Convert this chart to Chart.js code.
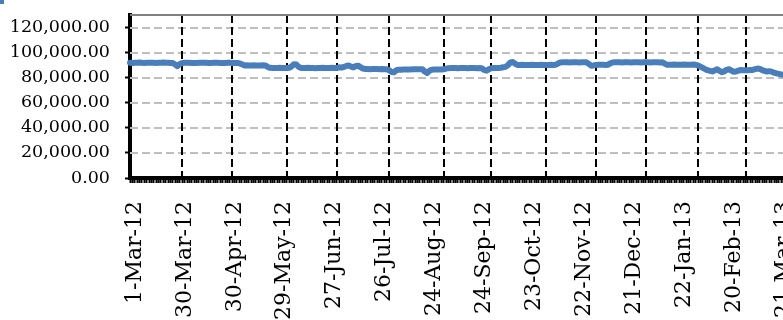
<!DOCTYPE html>
<html><head><meta charset="utf-8">
<script src="https://cdn.jsdelivr.net/npm/chart.js@4/dist/chart.umd.min.js"></script>
<style>
html,body{margin:0;padding:0;background:#fff;overflow:hidden;width:783px;height:320px;}
#wrap{position:absolute;left:0;top:0;width:805px;height:320px;}
#legendMark{position:absolute;left:0;top:0;width:4px;height:4px;background:#4a7ebb;}
</style></head><body>
<div id="wrap"><canvas id="c" width="805" height="320"></canvas></div>
<div id="legendMark"></div>
<script>
// ---- data ----
const startDate = '2012-03-01';                 // first trading day
const holidays = ['2012-11-12', '2013-01-01'];  // weekdays without trading
const labelEvery = 21;                          // one date label every 21 trading days
const yTicks = [0, 20000, 40000, 60000, 80000, 100000, 120000];
const values = [
  92000,91800,91900,92000,92100, 91900,91800,91900,92000,92000, 91900,91800,91900,92000,92100, 92000,91900,91800,91700,
  90500,89200,91000,
  91800,91900,92000,91900,91800, 91700,91800,91900,92000,92000, 91900,91800,91800,91900,92000, 91900,91800,91700,91800,91900, 91900,91800,91700,91800,91600,
  90800,
  89800,89900,89700,89800,89900, 89800,89700,89800,89900,89800,
  88500,
  87900,87800,87700,87800,87900, 87800,87700,87800,87900,
  89000,90800,90500,88500,
  87800,87700,87800,87900,87800, 87700,87600,87700,87800,87900, 87800,87700,87800,87900,87800,
  87800,88300,88000,88600,89400,89700,88800,88200,89300,89600,88400,87300,
  87000,86900,86800,86900,87000, 86900,86800,86900,86800,86700,
  86000,84600,84300,85800,
  86400,86400,86500,86500,86600,86600,86700,86700,86800,86800,86700,
  85000,83800,85500,
  86400,86500,86600,86500,86600,86700,
  87200,
  87600,87700,87800,87700,87600, 87700,87800,87700,87600,87700, 87800,87700,87600,87700,87500,
  86200,85600,86800,
  87600,87700,87800,87700,87900,
  88300,88600,90000,92000,92600,91200,
  90100,90200,90300,90200,90100, 90200,90300,90200,90100,90200, 90300,90200,90100,90200,90300, 90200,90400,
  91200,
  92200,92300,92400,92300,92200, 92300,92400,92300,92200,92300, 92400,92300,
  91000,89600,89800,
  90200,90300,90400,90300,90200,90300,
  91300,
  92200,92300,92400,92300,92200, 92300,92400,92300,92200,92300, 92400,92300,92200,92300,92400, 92300,92200,92300,92400,92300, 92200,92300,
  91200,
  90400,90300,90400,90500,90400, 90300,90400,90500,90400,90300, 90400,90500,90300,
  89800,88800,87800,86800,86000,85500,85000,85800,86800,85500,84300,85000,86300,86800,85700,84800,85000,85600,86200,
  86000,85900,86000,86100,86200,86800,87300,87000,86000,85300,85000,85200,84800,84000,83400,83000,82600,82400,
  82500,82300,82600,82400,82700,82500,82300,82600,82400
];

// ---- categories: trading days (weekdays minus holidays) ----
const monthNames = ['Jan','Feb','Mar','Apr','May','Jun','Jul','Aug','Sep','Oct','Nov','Dec'];
function buildDays(n) {
  const out = [];
  const d = new Date(startDate + 'T00:00:00Z');
  while (out.length < n) {
    const iso = d.toISOString().slice(0, 10);
    const wd = d.getUTCDay();
    if (wd !== 0 && wd !== 6 && !holidays.includes(iso)) out.push(new Date(d.getTime()));
    d.setUTCDate(d.getUTCDate() + 1);
  }
  return out;
}
const days = buildDays(values.length);
const categories = days.map(d => d.getUTCDate() + '-' + monthNames[d.getUTCMonth()] + '-' + String(d.getUTCFullYear()).slice(2));
const monthStart = days.map((d, i) => i > 0 && d.getUTCMonth() !== days[i - 1].getUTCMonth());

function noPad(s) { s.paddingLeft = 0; s.paddingRight = 0; s.paddingTop = 0; s.paddingBottom = 0; }

const frame = {
  id: 'frame',
  beforeDatasetsDraw(chart) {
    const { ctx, chartArea: { left, right, top, bottom } } = chart;
    const xs = chart.scales.x, ys = chart.scales.y;
    ctx.save();
    ctx.lineWidth = 2;
    ctx.setLineDash([8, 4]);
    ctx.strokeStyle = '#bfbfbf';
    yTicks.forEach(v => {
      if (v === 0) return;
      const py = Math.round(ys.getPixelForValue(v));
      ctx.beginPath();
      ctx.moveTo(left, py);
      ctx.lineTo(right, py);
      ctx.stroke();
    });
    ctx.strokeStyle = '#000000';
    monthStart.forEach((m, i) => {
      if (!m) return;
      const px = Math.round(xs.getPixelForTick(i));
      ctx.beginPath();
      ctx.moveTo(px, top);
      ctx.lineTo(px, bottom);
      ctx.stroke();
    });
    ctx.restore();
  },
  afterDatasetsDraw(chart) {
    const { ctx, chartArea: { left, right, top } } = chart;
    ctx.save();
    ctx.strokeStyle = '#808080';
    ctx.lineWidth = 2;
    ctx.beginPath();
    ctx.moveTo(left, top);
    ctx.lineTo(right, top);
    ctx.stroke();
    ctx.restore();
  }
};

new Chart(document.getElementById('c'), {
  type: 'line',
  data: {
    labels: categories,
    datasets: [{
      data: values,
      borderColor: '#4a7ebb',
      borderWidth: 6,
      pointRadius: 0,
      tension: 0,
      borderCapStyle: 'round',
      borderJoinStyle: 'round',
      fill: false
    }]
  },
  options: {
    responsive: false,
    animation: false,
    devicePixelRatio: 1,
    layout: { padding: { top: 15, left: 0, right: 0, bottom: 0 } },
    plugins: { legend: { display: false }, tooltip: { enabled: false } },
    scales: {
      x: {
        type: 'category',
        offset: false,
        afterFit: s => { s.height = 142; noPad(s); },
        grid: {
          drawOnChartArea: false,
          drawTicks: true,
          tickLength: 5,
          tickColor: '#000000',
          tickWidth: 2
        },
        border: { display: true, color: '#000000', width: 4 },
        ticks: {
          autoSkip: false,
          minRotation: 90,
          maxRotation: 90,
          padding: 18,
          labelOffset: 5,
          color: '#000000',
          font: { family: 'DejaVu Serif', size: 22 },
          callback: (v, i) => (i % labelEvery === 0 ? categories[i] : '')
        }
      },
      y: {
        min: 0,
        max: 130000,
        afterFit: s => { s.width = 130; noPad(s); },
        afterBuildTicks: s => { s.ticks = yTicks.map(v => ({ value: v })); },
        grid: {
          drawOnChartArea: false,
          drawTicks: true,
          tickLength: 5,
          tickColor: '#000000',
          tickWidth: 2
        },
        border: { display: true, color: '#000000', width: 4 },
        ticks: {
          padding: 15,
          color: '#000000',
          font: { family: 'DejaVu Serif', size: 17.5 },
          callback: v => Number(v).toLocaleString('en-US', { minimumFractionDigits: 2, maximumFractionDigits: 2 })
        }
      }
    }
  },
  plugins: [frame]
});
</script>
</body></html>
